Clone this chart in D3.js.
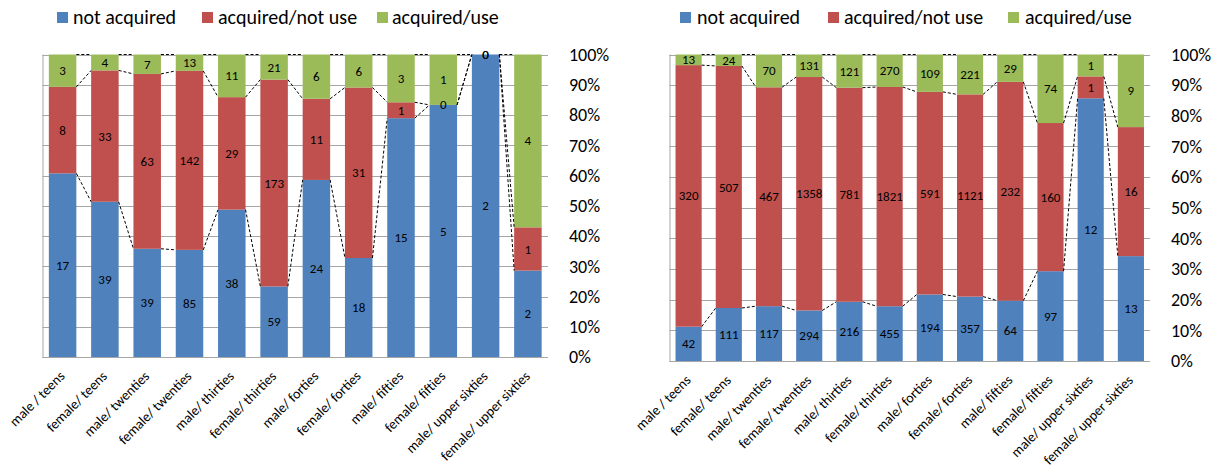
<!DOCTYPE html>
<html>
<head>
<meta charset="utf-8">
<script src="https://cdn.jsdelivr.net/npm/d3@7"></script>
<style>
  html, body { margin: 0; padding: 0; background: #fff; }
  svg { display: block; font-family: Carlito, Lato, "Open Sans", sans-serif; }
</style>
</head>
<body>
<svg id="chart" width="1212" height="467"></svg>
<script>
// Categories (gender / age group)
const categories = [
  "male / teens", "female/ teens", "male/ twenties", "female/ twenties",
  "male/ thirties", "female/ thirties", "male/ forties", "female/ forties",
  "male/ fifties", "female/ fifties", "male/ upper sixties", "female/ upper sixties"
];

const seriesNames = ["not acquired", "acquired/not use", "acquired/use"];
const seriesColors = ["#4F81BD", "#C0504D", "#9BBB59"];

// Left panel counts
const leftNotAcquired = [17, 39, 39, 85, 38, 59, 24, 18, 15, 5, 2, 2];
const leftAcquiredNotUse = [8, 33, 63, 142, 29, 173, 11, 31, 1, 0, 0, 1];
const leftAcquiredUse = [3, 4, 7, 13, 11, 21, 6, 6, 3, 1, 0, 4];

// Right panel counts
const rightNotAcquired = [42, 111, 117, 294, 216, 455, 194, 357, 64, 97, 12, 13];
const rightAcquiredNotUse = [320, 507, 467, 1358, 781, 1821, 591, 1121, 232, 160, 1, 16];
const rightAcquiredUse = [13, 24, 70, 131, 121, 270, 109, 221, 29, 74, 1, 9];

const percentTicks = [0, 0.1, 0.2, 0.3, 0.4, 0.5, 0.6, 0.7, 0.8, 0.9, 1.0];

const svg = d3.select("#chart");

function drawPanel(cfg) {
  const { x0, x1, y0, y1, series, legend } = cfg;
  const g = svg.append("g");

  const x = d3.scaleBand().domain(categories).range([x0, x1])
    .paddingInner(0.35).paddingOuter(0.15);
  const y = d3.scaleLinear().domain([0, 1]).range([y1, y0]);
  const bw = x.bandwidth();

  // Stack the three series as shares of each category's total
  const rows = categories.map((c, i) => {
    const vals = series.map(s => s[i]);
    const total = d3.sum(vals);
    let acc = 0;
    const segs = vals.map((v, k) => {
      const lo = acc / total; acc += v; const hi = acc / total;
      return { cat: c, k, v, lo, hi };
    });
    return { cat: c, segs };
  });

  // Gridlines
  g.append("g").selectAll("line").data(percentTicks).join("line")
    .attr("x1", x0).attr("x2", x1)
    .attr("y1", d => Math.round(y(d)) + 0.5).attr("y2", d => Math.round(y(d)) + 0.5)
    .attr("stroke", "#a6a6a6").attr("stroke-width", 1);

  // Axis frame (left and bottom)
  g.append("line").attr("x1", x0 + 0.5).attr("x2", x0 + 0.5)
    .attr("y1", y0).attr("y2", Math.round(y1) + 0.5)
    .attr("stroke", "#a6a6a6");
  g.append("line").attr("x1", x0).attr("x2", x1)
    .attr("y1", Math.round(y1) + 0.5).attr("y2", Math.round(y1) + 0.5)
    .attr("stroke", "#a6a6a6");

  // Bars
  const allSegs = rows.flatMap(r => r.segs);
  g.append("g").selectAll("rect").data(allSegs).join("rect")
    .attr("x", d => x(d.cat))
    .attr("width", bw)
    .attr("y", d => y(d.hi))
    .attr("height", d => y(d.lo) - y(d.hi))
    .attr("fill", d => seriesColors[d.k]);

  // Series lines between neighbouring bars
  const lines = [];
  for (let i = 0; i < rows.length - 1; i++) {
    for (let k = 0; k < 3; k++) {
      lines.push({
        xa: x(rows[i].cat) + bw, ya: y(rows[i].segs[k].hi),
        xb: x(rows[i + 1].cat), yb: y(rows[i + 1].segs[k].hi)
      });
    }
  }
  g.append("g").selectAll("line").data(lines).join("line")
    .attr("x1", d => d.xa).attr("y1", d => d.ya)
    .attr("x2", d => d.xb).attr("y2", d => d.yb)
    .attr("stroke", "#000").attr("stroke-width", 1)
    .attr("stroke-dasharray", "3,2");

  // Value labels
  g.append("g").selectAll("text").data(allSegs).join("text")
    .attr("x", d => x(d.cat) + bw / 2)
    .attr("y", d => y((d.lo + d.hi) / 2))
    .attr("dy", "0.35em")
    .attr("text-anchor", "middle")
    .attr("font-size", 13)
    .attr("fill", "#000")
    .text(d => d.v);

  // Percent axis on the right
  g.append("g").selectAll("text").data(percentTicks).join("text")
    .attr("x", x1 + 21)
    .attr("y", d => y(d))
    .attr("dy", "0.35em")
    .attr("font-size", 18)
    .attr("fill", "#000")
    .text(d => d3.format(".0%")(d));

  // Category labels, rotated
  g.append("g").selectAll("text").data(categories).join("text")
    .attr("transform", d => `translate(${x(d) + bw / 2 + 3},${y1 + 20}) rotate(-45)`)
    .attr("text-anchor", "end")
    .attr("font-size", 14)
    .attr("fill", "#000")
    .text(d => d);

  // Legend
  const lg = g.append("g");
  legend.forEach((p, k) => {
    lg.append("rect").attr("x", p.sx).attr("y", 12).attr("width", 11).attr("height", 11)
      .attr("fill", seriesColors[k]);
    lg.append("text").attr("x", p.tx).attr("y", 24)
      .attr("font-size", 20).attr("fill", "#000")
      .text(seriesNames[k]);
  });
}

drawPanel({
  x0: 42.5, x1: 548, y0: 54.5, y1: 357,
  series: [leftNotAcquired, leftAcquiredNotUse, leftAcquiredUse],
  legend: [{ sx: 57, tx: 73 }, { sx: 202, tx: 218 }, { sx: 377, tx: 392 }]
});

drawPanel({
  x0: 669.5, x1: 1150, y0: 54.5, y1: 361,
  series: [rightNotAcquired, rightAcquiredNotUse, rightAcquiredUse],
  legend: [{ sx: 680, tx: 697 }, { sx: 828, tx: 844 }, { sx: 1008, tx: 1025 }]
});
</script>
</body>
</html>
